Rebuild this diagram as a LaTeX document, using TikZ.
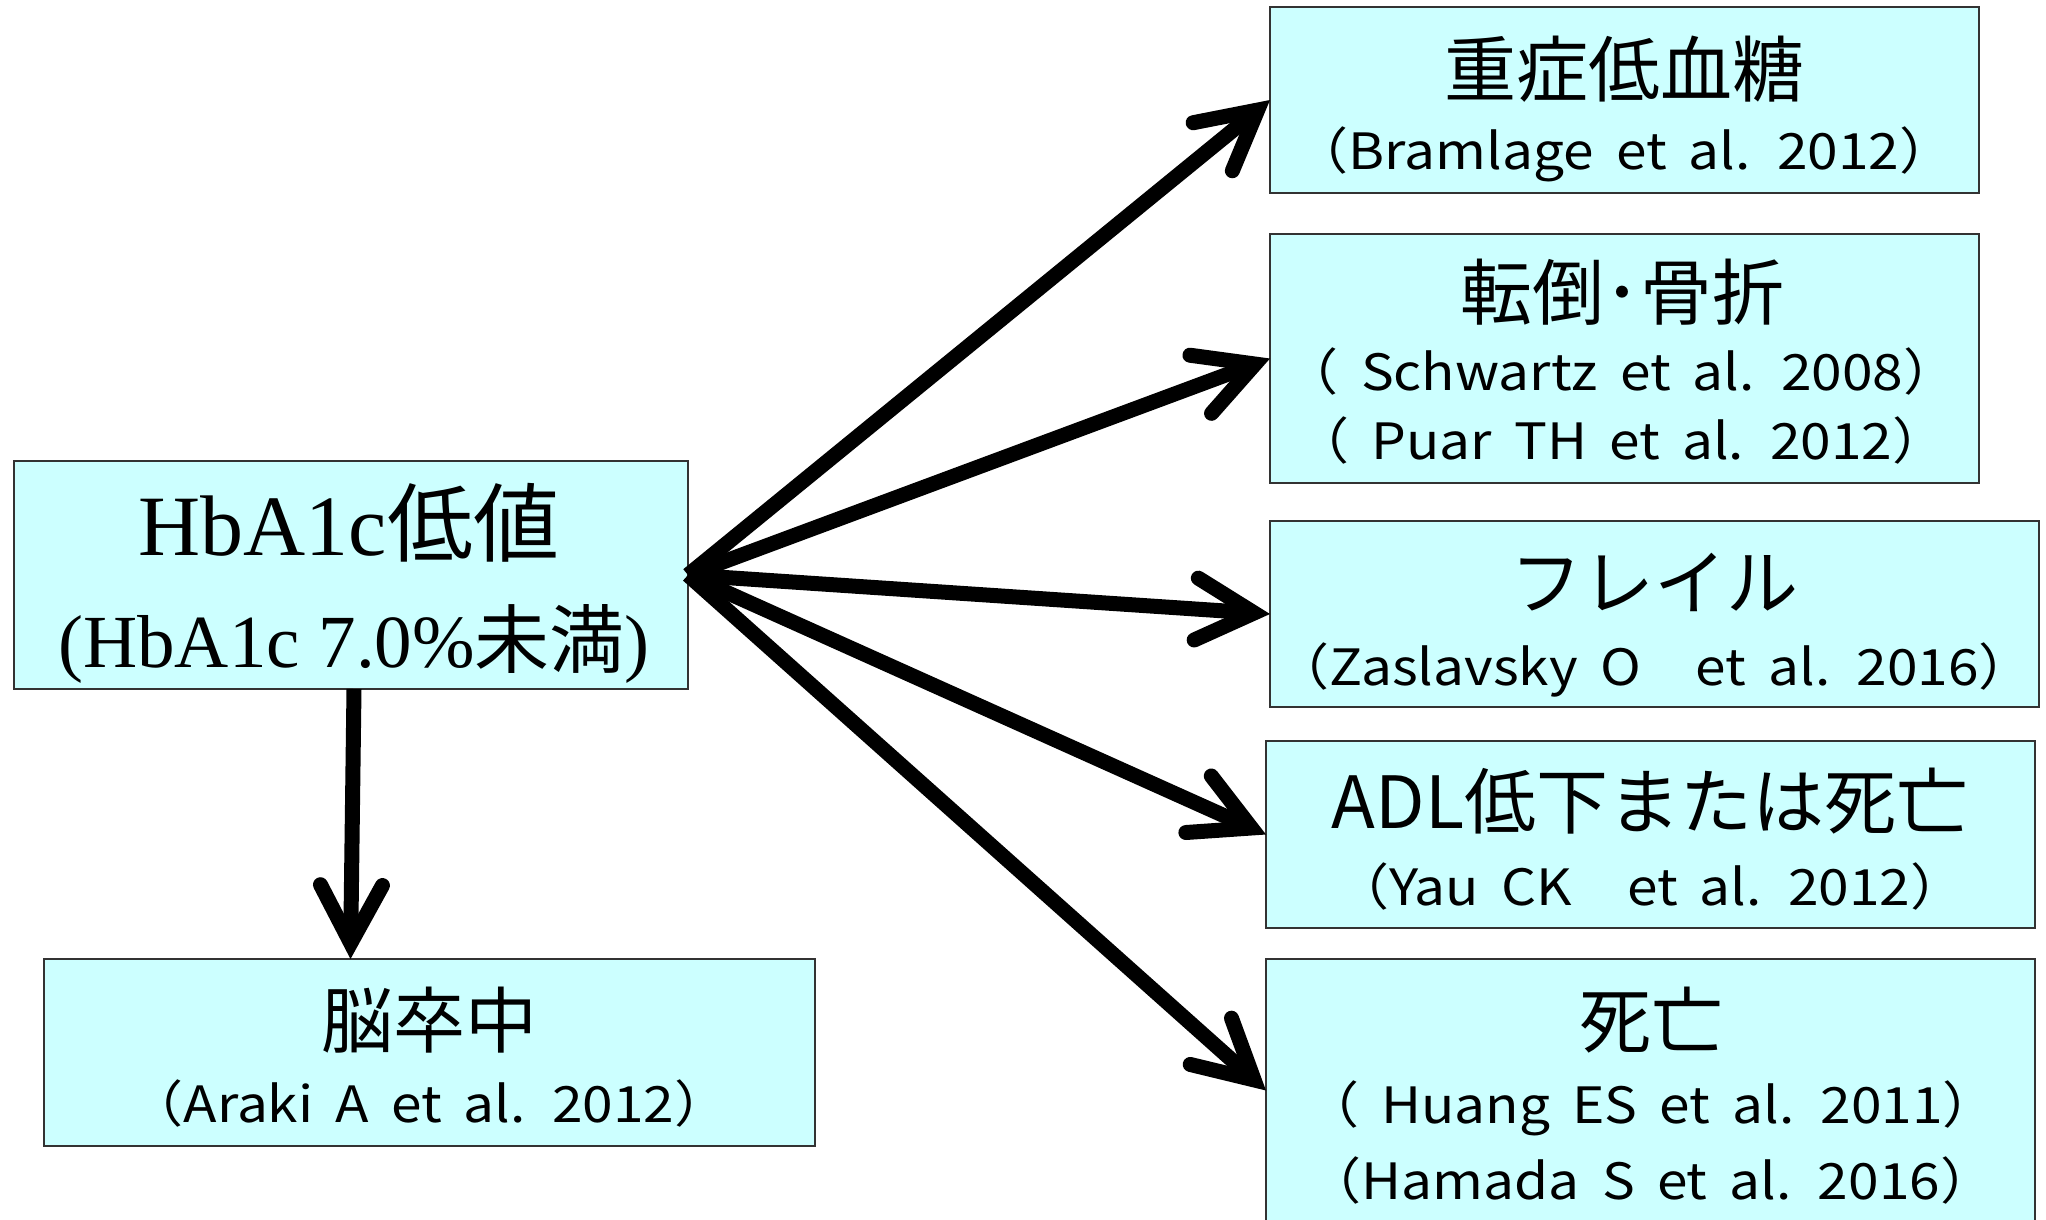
\documentclass[tikz,border=0pt]{standalone}
\usepackage{fontspec}
\setmainfont{Noto Sans CJK JP}
\newfontfamily\jp{Noto Sans CJK JP}
\newfontfamily\jpc[FakeStretch=1.1,WordSpace=1.8]{Noto Sans CJK JP}
\newfontfamily\ser{Liberation Serif}
\usetikzlibrary{arrows.meta}
\definecolor{boxcyan}{HTML}{CCFFFF}
\definecolor{boxline}{HTML}{333333}
\begin{document}
\begin{tikzpicture}[x=1pt,y=-1pt,
  box/.style={draw=boxline, line width=1.5pt, fill=boxcyan, inner sep=0pt, outer sep=0pt, anchor=north west, rectangle},
  ttl/.style={anchor=base, inner sep=0pt, font=\jp\fontsize{72}{80}\selectfont},
  cite/.style={anchor=base, inner sep=0pt, font=\jpc\fontsize{50}{58}\selectfont},
  mainA/.style={anchor=base, inner sep=0pt, font=\ser\fontsize{86}{96}\selectfont},
  mainB/.style={anchor=base, inner sep=0pt, font=\ser\fontsize{75}{84}\selectfont},
  arr/.style={line width=15pt, -{Straight Barb[length=58pt,width=62pt,line cap=round]}}]
\useasboundingbox (0,0) rectangle (2046,1219);
\fill[white] (0,0) rectangle (2046,1219);
\clip (0,0) rectangle (2046,1219);

% boxes
\node[box, minimum width=674pt, minimum height=228pt] (m) at (14,461) {};
\node[box, minimum width=771pt, minimum height=187pt] (st) at (44,959) {};
\node[box, minimum width=709pt, minimum height=186pt] (d1) at (1270,7) {};
\node[box, minimum width=709pt, minimum height=249pt] (d2) at (1270,234) {};
\node[box, minimum width=769pt, minimum height=186pt] (d3) at (1270,521) {};
\node[box, minimum width=769pt, minimum height=187pt] (d4) at (1266,741) {};
\node[box, minimum width=769pt, minimum height=263pt] (d5) at (1266,959) {};

% texts
\node[mainA] (mt1) at (349,555) {HbA1c{\jp 低値}};
\node[mainB] (mt2) at (354,667) {(HbA1c 7.0\%{\jp 未満})};

\node[ttl] (st1) at (429,1047) {脳卒中};
\node[cite] (st2) at (429,1122) {（Araki A et al. 2012）};

\node[ttl] (t1) at (1624,96) {重症低血糖};
\node[cite] (c1) at (1624,169) {（Bramlage et al. 2012）};

\node[ttl] (t2) at (1622,319) {転倒･骨折};
\node[cite] (c2a) at (1621,390) {（ Schwartz et al. 2008）};
\node[cite] (c2b) at (1621,459) {（ Puar TH et al. 2012）};

\node[ttl] (t3) at (1654,609) {フレイル};
\node[cite] (c3) at (1654,685) {（Zaslavsky O　et al. 2016）};

\node[ttl] (t4) at (1650,828) {ADL低下または死亡};
\node[cite] (c4) at (1650,905) {（Yau CK　et al. 2012）};

\node[ttl] (t5) at (1651,1047) {死亡};
\node[cite] (c5a) at (1651,1123) {（ Huang ES et al. 2011）};
\node[cite] (c5b) at (1651,1199) {（Hamada S et al. 2016）};

% arrows
\draw[arr] (m.east) -- (d1.west);
\draw[arr] (m.east) -- (d2.west);
\draw[arr] (m.east) -- (d3.west);
\draw[arr] (m.east) -- (d4.west);
\draw[arr] (m.east) -- (d5.west);
\draw[arr] ([xshift=3pt]m.south) -- ([xshift=-79pt]st.north);
\end{tikzpicture}
\end{document}
